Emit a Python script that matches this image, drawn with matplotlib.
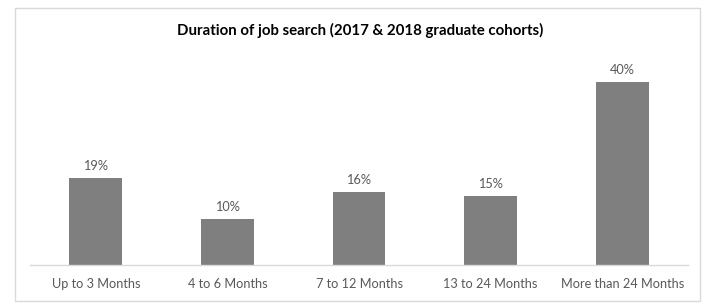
import matplotlib
matplotlib.use("Agg")
import matplotlib.pyplot as plt
from matplotlib.patches import Rectangle

categories = ["Up to 3 Months", "4 to 6 Months", "7 to 12 Months", "13 to 24 Months", "More than 24 Months"]
values = [19, 10, 16, 15, 40]
labels = ["19%", "10%", "16%", "15%", "40%"]
title = "Duration of job search (2017 & 2018 graduate cohorts)"

W, H = 705, 304
fig = plt.figure(figsize=(W / 100, H / 100), dpi=100)
fig.patch.set_facecolor("white")

# outer chart-area border
fig.add_artist(Rectangle((15 / W, 1 - 301 / H), 685 / W, 293 / H, transform=fig.transFigure,
                         fill=False, edgecolor="#d9d9d9", linewidth=1.0))

ax = fig.add_axes([30 / W, 1 - 265 / H, 658 / W, 206 / H])
x = list(range(len(categories)))
ax.bar(x, values, width=0.4, color="#7f7f7f", zorder=2)
ax.set_xlim(-0.5, len(categories) - 0.5)
ax.set_ylim(0, 45)
for s in ["top", "right", "left"]:
    ax.spines[s].set_visible(False)
ax.spines["bottom"].set_color("#d9d9d9")
ax.spines["bottom"].set_linewidth(1.0)
ax.set_yticks([])
ax.set_xticks(x)
ax.set_xticklabels(categories, fontsize=9.2, color="#595959", family="Lato")
ax.tick_params(axis="x", length=0, pad=9)

for xi, v, lab in zip(x, values, labels):
    ax.annotate(lab, (xi, v), xytext=(0, 4.5), textcoords="offset points",
                ha="center", va="bottom", fontsize=9.2, color="#595959", family="Lato")

fig.text(360 / W, 1 - 30 / H, title, ha="center", va="center", fontsize=10.8,
         fontweight="bold", color="#000000", family="Lato")

fig.savefig("out.png", dpi=100, facecolor="white")
